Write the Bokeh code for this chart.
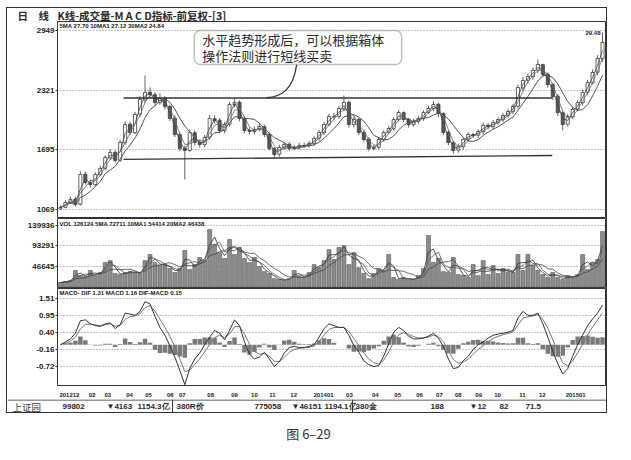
import pandas as pd
from bokeh.core.properties import value
from bokeh.embed import file_html
from bokeh.layouts import column, row
from bokeh.models import (BoxAnnotation, ColumnDataSource, FixedTicker, Label,
                          PrintfTickFormatter, Range1d, Span)
from bokeh.plotting import figure
from bokeh.resources import INLINE

# one bar per ~week (Dec 2012 .. Mar 2015)
open_ = [1075, 1092, 1140, 1178, 1125, 1440, 1350, 1330, 1435, 1502,
         1612, 1670, 1586, 1770, 1965, 1875, 2070, 2220, 2300, 2275,
         2190, 2238, 2150, 2028, 1855, 1712, 1690, 1875, 1775, 1750,
         1828, 2022, 2006, 1897, 1965, 2170, 2195, 2022, 1901, 1887,
         1912, 1938, 1860, 1708, 1650, 1718, 1755, 1708, 1722, 1739,
         1743, 1760, 1818, 1875, 1965, 2044, 2048, 2128, 2195, 1960,
         2016, 1876, 1807, 1708, 1722, 1803, 1880, 1918, 2016, 2086,
         2016, 1960, 1996, 2022, 2090, 2128, 2175, 2075, 1880, 1771,
         1692, 1728, 1808, 1855, 1849, 1887, 1955, 1939, 1985, 2012,
         2058, 2096, 2154, 2346, 2427, 2463, 2532, 2590, 2490, 2380,
         2259, 2085, 1965, 2043, 2123, 2190, 2301, 2400, 2511, 2652]
high = [1112, 1168, 1205, 1205, 1470, 1465, 1385, 1460, 1530, 1640,
        1700, 1690, 1800, 1995, 1990, 2095, 2260, 2476, 2350, 2300,
        2290, 2260, 2170, 2060, 1880, 1740, 1910, 1900, 1800, 1850,
        2060, 2060, 2030, 1990, 2200, 2240, 2215, 2050, 1930, 1940,
        1975, 1960, 1880, 1725, 1750, 1780, 1775, 1745, 1770, 1770,
        1790, 1840, 1905, 1990, 2075, 2085, 2160, 2267, 2215, 2045,
        2030, 1905, 1830, 1745, 1830, 1900, 1950, 2040, 2115, 2100,
        2030, 2020, 2050, 2110, 2160, 2210, 2190, 2090, 1900, 1790,
        1760, 1830, 1880, 1875, 1910, 1980, 1975, 2010, 2040, 2080,
        2125, 2180, 2380, 2460, 2495, 2560, 2645, 2600, 2510, 2400,
        2280, 2100, 2075, 2150, 2220, 2325, 2430, 2540, 2690, 2928]
low = [1069, 1080, 1125, 1100, 1110, 1330, 1300, 1315, 1420, 1480,
       1590, 1560, 1570, 1750, 1850, 1860, 2040, 2190, 2240, 2160,
       2170, 2120, 2000, 1830, 1680, 1384, 1670, 1740, 1720, 1725,
       1800, 1970, 1870, 1870, 1940, 2140, 1995, 1870, 1860, 1860,
       1890, 1830, 1690, 1615, 1625, 1700, 1685, 1690, 1700, 1715,
       1720, 1740, 1790, 1850, 1940, 2010, 2020, 2100, 1930, 1930,
       1850, 1780, 1680, 1690, 1700, 1780, 1860, 1895, 1990, 1990,
       1930, 1940, 1970, 2000, 2070, 2100, 2040, 1850, 1745, 1655,
       1665, 1700, 1780, 1820, 1820, 1860, 1910, 1915, 1960, 1990,
       2030, 2070, 2130, 2310, 2390, 2430, 2500, 2460, 2350, 2220,
       2050, 1900, 1940, 2020, 2100, 2160, 2270, 2380, 2480, 2620]
close = [1090, 1143, 1175, 1122, 1437, 1353, 1332, 1437, 1500, 1615,
         1668, 1584, 1773, 1962, 1878, 2067, 2224, 2298, 2277, 2193,
         2235, 2151, 2025, 1857, 1710, 1689, 1878, 1773, 1752, 1826,
         2025, 2004, 1899, 1962, 2172, 2193, 2025, 1899, 1889, 1910,
         1941, 1857, 1710, 1647, 1720, 1752, 1710, 1720, 1741, 1741,
         1762, 1815, 1878, 1962, 2046, 2046, 2130, 2193, 1962, 2014,
         1878, 1805, 1710, 1720, 1805, 1878, 1920, 2014, 2088, 2014,
         1962, 1994, 2025, 2088, 2130, 2172, 2077, 1878, 1773, 1689,
         1731, 1805, 1857, 1847, 1889, 1952, 1941, 1983, 2014, 2056,
         2098, 2151, 2350, 2424, 2466, 2529, 2592, 2487, 2382, 2256,
         2088, 1962, 2046, 2120, 2193, 2298, 2403, 2508, 2655, 2823]
volume = [10000, 12500, 15000, 37500, 26000, 24000, 37500, 26000, 33000, 56000,
          60000, 30700, 28400, 33000, 35000, 33000, 30700, 60000, 74000, 56000,
          49000, 51000, 42000, 33000, 42000, 83000, 40000, 51000, 67000, 60000,
          131000, 97000, 78000, 65000, 108000, 74000, 90000, 65000, 56000, 67000,
          46600, 35000, 30700, 19000, 17000, 15000, 19000, 37500, 24000, 21600,
          33000, 51000, 44000, 60000, 85000, 62500, 90000, 94000, 51000, 78000,
          44000, 30700, 19000, 30700, 42000, 37500, 74000, 21600, 17000, 21600,
          17000, 17000, 26000, 42000, 117000, 56000, 65000, 35000, 33000, 67000,
          28400, 26000, 21600, 51000, 26000, 60000, 28400, 49000, 30700, 42000,
          33000, 33000, 74000, 37500, 74000, 49000, 37500, 28400, 21600, 33000,
          21600, 17000, 26000, 21600, 28400, 74000, 40000, 56000, 62500, 126124]
dif = [0.00, 0.09, 0.19, 0.38, 0.79, 0.82, 0.69, 0.63, 0.60, 0.69,
       0.72, 0.53, 0.66, 1.04, 1.01, 0.97, 1.10, 1.42, 1.35, 0.94,
       0.57, 0.31, -0.03, -0.41, -0.85, -1.32, -0.79, -0.47, -0.28, 0.00,
       0.25, 0.47, 0.38, 0.16, 0.47, 0.82, 0.63, 0.09, -0.31, -0.47,
       -0.41, -0.25, -0.47, -0.72, -0.57, -0.28, -0.09, -0.06, -0.09, -0.09,
       -0.06, 0.00, 0.25, 0.53, 0.69, 0.63, 0.57, 0.57, 0.31, -0.03,
       -0.25, -0.53, -0.66, -0.72, -0.69, -0.38, 0.03, 0.41, 0.57, 0.47,
       0.28, 0.19, 0.19, 0.22, 0.28, 0.38, 0.22, -0.06, -0.47, -0.79,
       -0.75, -0.53, -0.38, -0.16, 0.00, 0.09, 0.22, 0.31, 0.35, 0.38,
       0.41, 0.47, 0.88, 1.10, 0.97, 0.97, 1.04, 0.69, 0.25, -0.22,
       -0.63, -0.97, -0.79, -0.38, 0.00, 0.31, 0.63, 0.85, 1.04, 1.31]

month_pos = [1.8, 6.4, 9.5, 13.9, 17.7, 22.1, 24.5, 30.2, 35.0, 39.0, 42.6, 46.9,
             52.9, 58.1, 63.3, 67.8, 72.2, 76.2, 80.0, 84.1, 87.9, 92.9, 96.9, 103.6]
month_labels = ["201212", "02", "03", "04", "05", "06", "07", "08", "09", "10", "11", "12",
                "201401", "03", "04", "05", "06", "07", "08", "09", "10", "11", "12", "201501"]

price_ticks = [1069, 1695, 2321, 2949]
vol_ticks = [46645, 93291, 139936]
macd_ticks = [-0.72, -0.16, 0.40, 0.95, 1.51]

# box (range) lines drawn by the author: start/end bar, level
box_x = [12.7, 98.9]
box_top = [2240, 2240]
box_bottom = [1595, 1636]

# status bar cells (pixels from the bar's left edge)
status_x = [5, 55, 99, 130, 169, 247, 284, 317, 348, 423, 462, 492, 518]
status_text = ["上证园", "99802", "▼4163", "1154.3亿", "380R价", "775058", "▼46151",
               "1194.1亿", "380金", "188", "▼12", "82", "71.5"]

df = pd.DataFrame(dict(i=range(len(close)), o=open_, h=high, l=low, c=close,
                       v=volume, dif=dif))
for n, w in (("ma1", 2), ("ma2", 3), ("ma3", 6)):
    df[n] = df.c.rolling(w, min_periods=1).mean()
    df["v" + n] = df.v.rolling(w, min_periods=1).mean()
df["dea"] = df.dif.ewm(span=3, adjust=False).mean()
df["hist"] = df.dif - df.dea
src = ColumnDataSource(df)

CJK = "Noto Sans CJK SC"
NUM = "Liberation Sans"
INK = "#333333"
W = 599

xr = Range1d(-0.6, 109.6)


def panel(height, yr, ticks, bottom=0):
    p = figure(width=W, height=height, x_range=xr, y_range=yr,
               output_backend="svg", toolbar_location=None,
               x_axis_location="below" if bottom else None,
               min_border_left=50, min_border_right=1,
               min_border_top=0, min_border_bottom=bottom)
    p.outline_line_color = INK
    p.outline_line_width = 1
    p.xgrid.visible = False
    p.ygrid.grid_line_color = "#888888"
    p.ygrid.grid_line_dash = "1 2"
    p.yaxis.ticker = FixedTicker(ticks=ticks)
    p.yaxis.axis_line_color = None
    p.yaxis.minor_tick_line_color = None
    p.yaxis.major_tick_in = 0
    p.yaxis.major_tick_out = 2
    p.yaxis.major_tick_line_color = INK
    p.yaxis.major_label_standoff = 1
    p.yaxis.major_label_text_font = NUM
    p.yaxis.major_label_text_font_style = "bold"
    p.yaxis.major_label_text_font_size = "8px"
    p.yaxis.major_label_text_color = "#222222"
    return p


def strip(width, height, fill="white"):
    # plain text row: frame covers the whole canvas, data units are pixels
    p = figure(width=width, height=height, x_range=Range1d(0, width), y_range=Range1d(0, height),
               output_backend="svg", toolbar_location=None,
               x_axis_location=None, y_axis_location=None, min_border=0)
    p.frame_align = False
    p.outline_line_color = None
    p.grid.visible = False
    p.background_fill_color = fill
    p.border_fill_color = fill
    return p


def note(p, x, y, text, **kw):
    args = dict(text_font=NUM, text_font_style="bold", text_font_size="6px",
                text_color="#222222", text_baseline="middle")
    args.update(kw)
    p.add_layout(Label(x=x, y=y, text=text, **args))


def words(p, xs, y, texts, font, size, style="bold", color="#2a2a2a", align="left"):
    p.text(x=xs, y=[y] * len(xs), text=texts, text_font=value(font), text_font_size=size,
           text_font_style=style, text_color=color, text_baseline="middle", text_align=align)


# --- header row
header = strip(W, 13)
words(header, [10, 31, 50], 6.5, ["日", "线", "K线-成交量-M A C D指标-前复权-[3]"], CJK, "10.5px")

# --- price panel
price = panel(197, Range1d(974.4, 3043.5), price_ticks)
price.segment(x0="i", y0="h", x1="i", y1="l", source=src, line_color="#3a3a3a", line_width=0.8)
up = ColumnDataSource(df[df.c >= df.o])
dn = ColumnDataSource(df[df.c < df.o])
price.vbar(x="i", width=0.62, top="c", bottom="o", source=up,
           fill_color="white", line_color="#3a3a3a", line_width=0.8)
price.vbar(x="i", width=0.62, top="o", bottom="c", source=dn,
           fill_color="#5a5a5a", line_color="#3a3a3a", line_width=0.8)
price.line(x="i", y="ma1", source=src, line_color="#444444", line_width=0.8)
price.line(x="i", y="ma2", source=src, line_color="#666666", line_width=0.8)
price.line(x="i", y="ma3", source=src, line_color="#555555", line_width=1.0)
price.line(box_x, box_top, line_color=INK, line_width=1.3)
price.line(box_x, box_bottom, line_color=INK, line_width=1.3)
price.bezier(x0=[47.5], y0=[2592], x1=[41.4], y1=[2243], cx0=[46.8], cy0=[2330],
             cx1=[44.5], cy1=[2252], line_color=INK, line_width=1.3)
price.add_layout(BoxAnnotation(left=26.9, right=68.6, top=2949, bottom=2592,
                               fill_color="white", fill_alpha=1, line_color=INK,
                               line_width=1.5, border_radius=6))
for yy, txt in ((2852, "水平趋势形成后，可以根据箱体"), (2684, "操作法则进行短线买卖")):
    note(price, 28.5, yy, txt, text_font=CJK, text_font_style="normal",
         text_font_size="13px", text_color="#2a2a2a")
note(price, -0.2, 3001, "5MA 27.70   10MA1 27.12   30MA2 24.84")
note(price, 108.6, 2918, "29.48", text_align="right")

# --- volume panel
vol = panel(70, Range1d(-3412, 155838), vol_ticks)
vol.yaxis.formatter = PrintfTickFormatter(format="%d")
vol.vbar(x="i", width=0.8, top="v", bottom=0, source=src,
         fill_color="#8c8c8c", line_color="#5a5a5a", line_width=0.6)
for n, c in (("vma1", "#333333"), ("vma2", "#555555"), ("vma3", "#444444")):
    vol.line(x="i", y=n, source=src, line_color=c, line_width=0.8)
note(vol, -0.2, 144400, "VOL 126124   5MA 72711   10MA1 54414   20MA2 46438")

# --- MACD panel
macd = panel(111, Range1d(-1.348, 1.8555), macd_ticks, bottom=9)
macd.yaxis.formatter = PrintfTickFormatter(format="%.2f")
macd.vbar(x="i", width=0.9, top="hist", bottom=0, source=src,
          fill_color="#7a7a7a", line_color=None)
macd.line(x="i", y="dea", source=src, line_color="#777777", line_width=1.0)
macd.line(x="i", y="dif", source=src, line_color="#333333", line_width=1.0)
note(macd, -0.2, 1.70, "MACD-  DIF 1.31   MACD 1.16   DIF-MACD 0.15")
macd.xaxis.ticker = FixedTicker(ticks=month_pos)
macd.xaxis.major_label_overrides = dict(zip(month_pos, month_labels))
macd.xaxis.axis_line_color = None
macd.xaxis.major_tick_line_color = None
macd.xaxis.minor_tick_line_color = None
macd.xaxis.major_label_standoff = 1
macd.xaxis.major_label_text_font = NUM
macd.xaxis.major_label_text_font_style = "bold"
macd.xaxis.major_label_text_font_size = "6px"
macd.xaxis.major_label_text_color = "#222222"

# --- status bar
status = strip(W, 13)
status.add_layout(Span(location=12.5, dimension="width", line_color=INK, line_width=1))
words(status, status_x[:1], 6, status_text[:1], CJK, "9.5px", style="normal", color="#3a3a3a")
words(status, status_x[1:], 6, status_text[1:], NUM, "8px")
status.add_layout(Span(location=165, dimension="height", line_color=INK, line_width=1))
status.add_layout(Span(location=345, dimension="height", line_color=INK, line_width=1))

framed = column(header, price, vol, macd, status, spacing=0,
                styles={"border": "1px solid #333333"})

caption = strip(607, 30)
words(caption, [308], 10, ["图 6–29"], CJK, "13px", style="normal", color="#333333", align="center")

# near-white pads push the framed chart to where it sits in the scan
top_pad = strip(607, 7, fill="#fbfbfb")
left_pad = strip(6, 406, fill="#fbfbfb")
page = column(top_pad, row(left_pad, framed, spacing=0), caption, spacing=0)

open("out.html", "w").write(file_html(page, INLINE))
